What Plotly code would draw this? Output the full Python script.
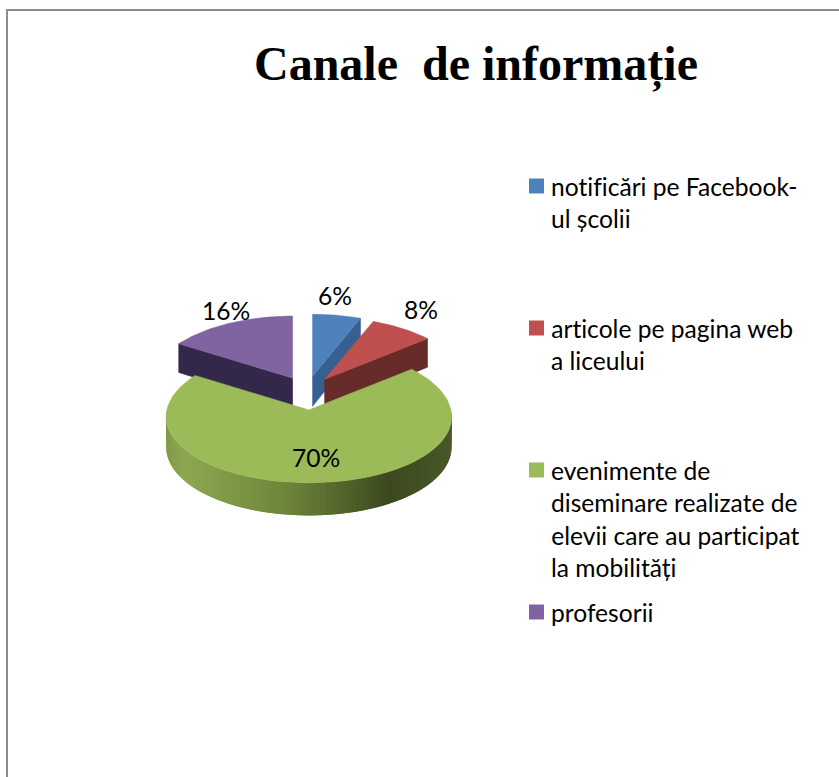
import plotly.graph_objects as go
import numpy as np

# ---- data ----
categories = ["notificări pe Facebook-ul școlii", "articole pe pagina web a liceului",
              "evenimente de diseminare realizate de elevii care au participat la mobilități", "profesorii"]
values = [6, 8, 70, 16]
legend_lines = [["notificări pe Facebook-", "ul școlii"],
                ["articole pe pagina web", "a liceului"],
                ["evenimente de", "diseminare realizate de", "elevii care au participat", "la mobilități"],
                ["profesorii"]]
title_text = "Canale\u00a0 de informație"

# ---- style ----
top_colors = ["#4f81bd", "#c0504d", "#9bbb59", "#8064a2"]
wall_colors = ["#376092", "#672b29", "#5f7530", "#33274a"]
wall_stops = [(0.0, (128, 155, 72)), (0.06, (141, 168, 81)), (0.42, (110, 133, 58)),
              (0.78, (60, 73, 31)), (1.0, (72, 88, 40))]
label_xy = [(335, 298.5), (421, 312.5), (316, 460.5), (226, 313.5)]
legend_y0, legend_step, line_step = 186, 142, 32.6
FONT = "Lato"
FS = 24.6
cx, cy, Rx, Ry, kx, ky, depth = 307, 393, 142, 67, 0.10, 0.08, 30
ex, ey = 30, 17


def proj(a_deg, r, ox, oy, z=0.0):
    a = np.radians(a_deg)
    u, v = r * np.sin(a), r * np.cos(a)
    x = ox + Rx * u / (1 + kx * v)
    y = oy - Ry * v / (1 + ky * v) + z * depth / (1 + ky * v)
    return x, y


def poly(xs, ys, color, name=None, lw=0.6):
    return go.Scatter(x=list(xs) + [xs[0]], y=list(ys) + [ys[0]], mode="lines", fill="toself",
                      fillcolor=color, line=dict(color=color, width=lw), showlegend=False,
                      hoverinfo="skip" if name is None else "text", text=name)


def grad(t):
    for (t0, c0), (t1, c1) in zip(wall_stops, wall_stops[1:]):
        if t <= t1:
            f = (t - t0) / (t1 - t0)
            c = [round(a + (b - a) * f) for a, b in zip(c0, c1)]
            return f"rgb({c[0]},{c[1]},{c[2]})"
    return "rgb(72,88,40)"


edges = np.cumsum([0] + values) * 3.6
fig = go.Figure()
slices = {}
for i in range(4):
    a0, a1 = edges[i], edges[i + 1]
    mid = np.radians((a0 + a1) / 2)
    ox, oy = cx + ex * np.sin(mid), cy - ey * np.cos(mid)
    slices[i] = (a0, a1, ox, oy)

for i in [3, 0, 1, 2]:
    a0, a1, ox, oy = slices[i]
    if i == 2:
        # curved outer wall of the large slice, shaded left to right; segments overlap to hide seams
        left = proj(270, 1, ox, oy)[0]
        right = proj(90, 1, ox, oy)[0]
        steps = np.linspace(90, 270, 91)
        for k in range(len(steps) - 1):
            s0 = steps[k]
            s1 = steps[min(k + 2, len(steps) - 1)]
            sm = steps[k + 1]
            x0, y0 = proj(s0, 1, ox, oy)
            x1, y1 = proj(s1, 1, ox, oy)
            xm = proj(sm, 1, ox, oy)[0]
            x0b, y0b = proj(s0, 1, ox, oy, 1)
            x1b, y1b = proj(s1, 1, ox, oy, 1)
            t = ((x0 + xm) / 2 - left) / (right - left)
            fig.add_trace(poly([x0, x1, x1b, x0b], [y0, y1, y1b, y0b], grad(float(np.clip(t, 0, 1))), lw=0))
    else:
        # flat cut wall of the raised slices
        edge = a0 if i == 3 else a1
        xa, ya = proj(0, 0, ox, oy)
        xb, yb = proj(0, 0, ox, oy, 1)
        xr, yr = proj(edge, 1, ox, oy)
        xs, ys = proj(edge, 1, ox, oy, 1)
        fig.add_trace(poly([xa, xr, xs, xb], [ya, yr, ys, yb], wall_colors[i]))
    # top surface
    ang = np.linspace(a0, a1, 80)
    pts = [proj(a, 1, ox, oy) for a in ang]
    xs = [ox] + [p[0] for p in pts]
    ys = [oy] + [p[1] for p in pts]
    fig.add_trace(poly(xs, ys, top_colors[i], f"{categories[i]}: {values[i]}%"))

# value labels
fig.add_trace(go.Scatter(x=[p[0] for p in label_xy], y=[p[1] for p in label_xy], mode="text",
                         text=[f"{v}%" for v in values], textposition="middle center",
                         textfont=dict(family=FONT, size=FS, color="#000000"),
                         showlegend=False, hoverinfo="skip"))

# legend
for i, lines in enumerate(legend_lines):
    y0 = legend_y0 + i * legend_step
    fig.add_trace(go.Scatter(x=[536.5], y=[y0], mode="markers", name=categories[i],
                             marker=dict(symbol="square", size=15, color=top_colors[i]),
                             showlegend=False, hoverinfo="name"))
    for j, line in enumerate(lines):
        fig.add_annotation(x=549, y=y0 + j * line_step, text=line, showarrow=False,
                           xanchor="left", yanchor="middle", xref="x", yref="y",
                           font=dict(family=FONT, size=FS, color="#000000"))

# title
fig.add_annotation(x=476, y=64, text=f"<b>{title_text}</b>", showarrow=False, xanchor="center",
                   yanchor="middle", font=dict(family="Liberation Serif", size=48, color="#000000"))

# frame
fig.add_shape(type="rect", x0=7, y0=10, x1=850, y1=790, line=dict(color="#8c8c8c", width=2),
              fillcolor="rgba(0,0,0,0)")

fig.update_layout(width=839, height=777, margin=dict(l=0, r=0, t=0, b=0), paper_bgcolor="white",
                  plot_bgcolor="white", showlegend=False,
                  xaxis=dict(range=[0, 839], visible=False, fixedrange=True),
                  yaxis=dict(range=[777, 0], visible=False, fixedrange=True))
fig.write_html("out.html", config={"displayModeBar": False},
               post_script="document.body.style.margin='0';document.body.style.overflow='hidden';"
                           "var s=document.createElement('style');"
                           "s.textContent='text{font-variant-ligatures:none !important}';"
                           "document.head.appendChild(s);")
